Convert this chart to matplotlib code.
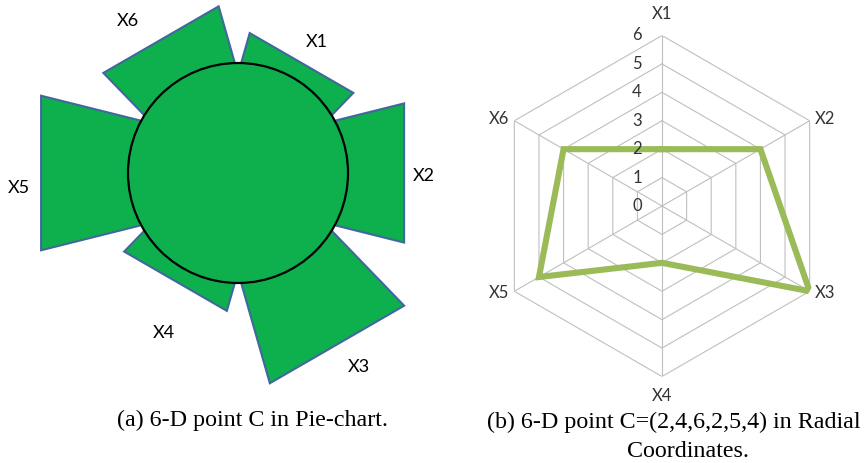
import numpy as np
import matplotlib
matplotlib.use("Agg")
import matplotlib.pyplot as plt
from matplotlib.patches import Polygon, Circle

# 6-D point C
dims = ["X1", "X2", "X3", "X4", "X5", "X6"]
point_c = [2, 4, 6, 2, 5, 4]
ring_ticks = [0, 1, 2, 3, 4, 5, 6]

# pie-chart petal lengths (in units of the hub radius)
pie_len = [1.155, 1.51, 1.80, 1.136, 1.79, 1.40]

# label placement for the pie petals: (bearing in deg, distance in hub radii)
pie_label_pos = [(31, 1.39), (91, 1.69), (148, 2.08), (205, 1.60), (266, 2.00), (324, 1.71)]

W, H = 866, 463
fig = plt.figure(figsize=(W / 100, H / 100), dpi=100)

# -------------------------------
# (a) pie-chart with petals
cx, cy, R = 238, 173, 110          # hub centre / radius in pixels
axa = fig.add_axes([0, 0, 440 / W, 1])
axa.set_xlim(-cx / R, (440 - cx) / R)
axa.set_ylim(-(H - cy) / R, cy / R)
axa.axis("off")

green = "#0DB04C"
half0, spread = 0.255, 0.25
for k, L in enumerate(pie_len):
    b = np.deg2rad(30 + 60 * k)
    u = np.array([np.sin(b), np.cos(b)])
    v = np.array([np.cos(b), -np.sin(b)])
    w1 = half0 + spread * L
    pts = [half0 * v, L * u + w1 * v, L * u - w1 * v, -half0 * v]
    axa.add_patch(Polygon(pts, closed=True, facecolor=green,
                          edgecolor="#41679C", lw=1.5, zorder=1))

axa.add_patch(Circle((0, 0), 1.0, facecolor=green, edgecolor="black",
                     lw=1.6, zorder=2))

for name, (bd, r) in zip(dims, pie_label_pos):
    b = np.deg2rad(bd)
    axa.text(r * np.sin(b), r * np.cos(b), name, ha="center", va="center",
             fontsize=13, family="Lato", color="black")

# -------------------------------
# (b) radial coordinates
rc_x, rc_y, rr = 662, 206, 170.5
axb = fig.add_axes([(rc_x - rr) / W, (H - rc_y - rr) / H, 2 * rr / W, 2 * rr / H],
                   projection="polar")
axb.set_theta_zero_location("N")
axb.set_theta_direction(-1)
axb.set_ylim(0, 6)
axb.grid(False)
axb.set_xticks([])
axb.set_yticks([])
axb.spines["polar"].set_visible(False)
axb.patch.set_visible(False)

theta = np.deg2rad(np.arange(6) * 60)
theta_c = np.append(theta, theta[0])
grid_col = "#BFBFBF"
for r in ring_ticks[1:]:
    axb.plot(theta_c, [r] * 7, color=grid_col, lw=0.8, zorder=1)
for t in theta:
    axb.plot([t, t], [0, ring_ticks[-1]], color=grid_col, lw=0.8, zorder=1)

vals = point_c + point_c[:1]
axb.plot(theta_c, vals, color="#9BBB59", lw=4.4, solid_joinstyle="miter", zorder=3)

txt_col = "#333333"
for r in ring_ticks:
    axb.annotate(str(r), xy=(0, r), xytext=(-18, 0), textcoords="offset points",
                 ha="center", va="center", fontsize=12, family="Lato",
                 color=txt_col, zorder=4)

label_style = [((0, 10), "center", "bottom"), ((4, 1), "left", "center"),
               ((4, -1), "left", "center"), ((0, -8), "center", "top"),
               ((-4, -1), "right", "center"), ((-4, 1), "right", "center")]
for name, t, (off, ha, va) in zip(dims, theta, label_style):
    axb.annotate(name, xy=(t, ring_ticks[-1]), xytext=off, textcoords="offset points",
                 ha=ha, va=va, fontsize=12, family="Lato", color=txt_col)

# -------------------------------
# captions
cap = dict(family="Liberation Serif", fontsize=17.3, color="black", va="baseline")
fig.text(117 / W, 1 - 426 / H, "(a) 6-D point C in Pie-chart.", ha="left", **cap)
fig.text(487 / W, 1 - 428 / H, "(b) 6-D point C=(2,4,6,2,5,4) in Radial", ha="left", **cap)
fig.text(688 / W, 1 - 457 / H, "Coordinates.", ha="center", **cap)

fig.savefig("out.png", dpi=100)
